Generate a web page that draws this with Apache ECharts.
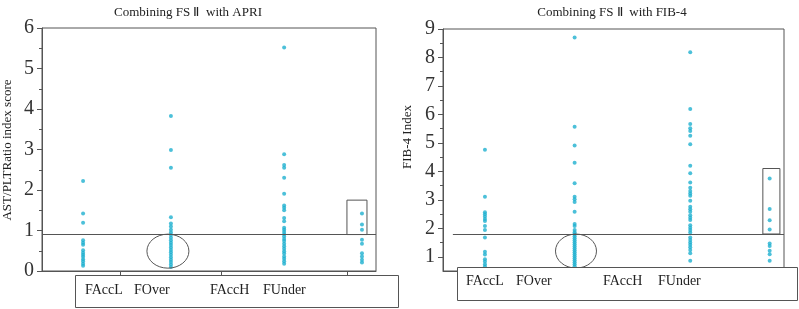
<!DOCTYPE html>
<html>
<head>
<meta charset="utf-8">
<script src="https://cdn.jsdelivr.net/npm/echarts@6/dist/echarts.min.js"></script>
<style>
  html, body { margin: 0; padding: 0; background: #fff; }
  #chart { width: 799px; height: 309px; }
</style>
</head>
<body>
<div id="chart"></div>
<script>
// legend labels (as printed in the boxes under each plot)
const legendNames = ['FAccL', 'FOver', 'FAccH', 'FUnder'];

// APRI (AST/PLT ratio index score), one column per group
const apriAccL = [2.22, 1.42, 1.19, 0.76, 0.70, 0.65, 0.51, 0.45, 0.40, 0.35, 0.29, 0.24, 0.18, 0.13];
const apriOver = [3.83, 2.99, 2.55, 1.33, 1.17, 1.10, 1.02, 0.95, 0.89, 0.82, 0.76, 0.70, 0.64, 0.58,
  0.52, 0.46, 0.40, 0.34, 0.28, 0.22, 0.16, 0.10];
const apriUnder = [5.52, 2.88, 2.62, 2.55, 2.30, 1.91, 1.62, 1.56, 1.50, 1.31, 1.23, 1.07, 1.02, 0.96,
  0.91, 0.85, 0.79, 0.74, 0.67, 0.61, 0.55, 0.49, 0.43, 0.36, 0.30, 0.24, 0.18];
const apriLast = [1.42, 1.15, 1.02, 0.77, 0.67, 0.44, 0.36, 0.28, 0.21];

// FIB-4 index
const fibAccL = [4.76, 3.11, 2.56, 2.49, 2.41, 2.33, 2.26, 2.08, 1.94, 1.68, 1.18, 1.08, 0.91, 0.83, 0.74, 0.66];
const fibOver = [8.70, 5.57, 4.91, 4.30, 3.58, 3.11, 3.02, 2.92, 2.58, 2.15, 2.08, 1.94, 1.86, 1.79,
  1.72, 1.65, 1.58, 1.51, 1.44, 1.37, 1.30, 1.23, 1.16, 1.09, 1.02, 0.95, 0.88, 0.81, 0.74, 0.67];
const fibUnder = [8.18, 6.19, 5.66, 5.51, 5.42, 5.25, 4.95, 4.20, 3.93, 3.61, 3.42, 3.31, 3.22, 3.14,
  2.97, 2.76, 2.67, 2.58, 2.46, 2.37, 2.29, 2.11, 2.02, 1.94, 1.85, 1.68, 1.59, 1.50, 1.42, 1.33,
  1.24, 1.12, 0.86];
const fibLast = [3.75, 2.68, 2.28, 1.96, 1.47, 1.38, 1.21, 1.09, 0.86];

// cut-off values and y tick labels
const apriCut = 0.9;
const fibCut = 1.8;
const apriTicks = [0, 1, 2, 3, 4, 5, 6];
const fibTicks = [1, 2, 3, 4, 5, 6, 7, 8, 9];
const fibMinorTicks = [1.5, 2.5, 3.5, 4.5, 5.5, 6.5, 7.5, 8.5];

// where the columns sit on the 0-100 horizontal scale
const columnX = [12.3, 38.6, 72.5, 95.8];
const xTicks = [23.4, 53.6, 91.3];

const DOT = '#1fb0cf';
const LINE = '#555';
const FONT = 'Liberation Serif';

function toPoints(values, x) {
  return values.map(v => [x, v]);
}

const chart = echarts.init(document.getElementById('chart'));

function dotSeries(gridIdx, values, x) {
  return {
    type: 'scatter',
    xAxisIndex: gridIdx,
    yAxisIndex: gridIdx === 0 ? 0 : 1,
    data: toPoints(values, x),
    symbolSize: 4,
    itemStyle: { color: DOT },
    silent: true,
    z: 3
  };
}

const xAxisBase = {
  type: 'value',
  min: 0,
  max: 100,
  axisLine: { lineStyle: { color: LINE } },
  axisLabel: { show: false },
  splitLine: { show: false }
};

const option = {
  animation: false,
  textStyle: { fontFamily: FONT },
  title: [
    { text: 'Combining FS Ⅱ  with APRI', left: 183, top: 1, textAlign: 'center',
      textStyle: { fontSize: 13, fontWeight: 'normal', color: '#222', fontFamily: FONT } },
    { text: 'Combining FS Ⅱ  with FIB-4', left: 607, top: 1, textAlign: 'center',
      textStyle: { fontSize: 13, fontWeight: 'normal', color: '#222', fontFamily: FONT } }
  ],
  grid: [
    { left: 42, top: 28, width: 334, height: 243, show: true, borderColor: LINE, borderWidth: 1 },
    { left: 443, top: 29, width: 341, height: 242, show: true, borderColor: LINE, borderWidth: 1 }
  ],
  xAxis: [
    Object.assign({}, xAxisBase, { gridIndex: 0,
      axisTick: { show: true, length: 5, customValues: xTicks, lineStyle: { color: LINE } } }),
    Object.assign({}, xAxisBase, { gridIndex: 1, axisTick: { show: false } })
  ],
  yAxis: [
    {
      type: 'value', gridIndex: 0, min: 0, max: 6, interval: 1,
      axisLine: { show: true, lineStyle: { color: LINE } },
      axisTick: { show: true, length: 5, lineStyle: { color: LINE } },
      minorTick: { show: true, splitNumber: 2, length: 3, lineStyle: { color: LINE } },
      axisLabel: { fontSize: 20, color: '#333', margin: 8, fontFamily: FONT, customValues: apriTicks },
      splitLine: { show: false }
    },
    {
      type: 'value', gridIndex: 1, min: 0.5, max: 9, position: 'left',
      axisLine: { show: true, lineStyle: { color: LINE } },
      axisTick: { show: true, length: 5, customValues: fibTicks, lineStyle: { color: LINE } },
      axisLabel: { fontSize: 20, color: '#333', margin: 8, fontFamily: FONT, customValues: fibTicks },
      splitLine: { show: false }
    },
    {
      // minor ticks for the FIB-4 axis
      type: 'value', gridIndex: 1, min: 0.5, max: 9, position: 'left', offset: 0,
      axisLine: { show: false },
      axisTick: { show: true, length: 3, customValues: fibMinorTicks, lineStyle: { color: LINE } },
      axisLabel: { show: false },
      splitLine: { show: false }
    }
  ],
  series: [
    dotSeries(0, apriAccL, columnX[0]),
    dotSeries(0, apriOver, columnX[1]),
    dotSeries(0, apriUnder, columnX[2]),
    dotSeries(0, apriLast, columnX[3]),
    dotSeries(1, fibAccL, columnX[0]),
    dotSeries(1, fibOver, columnX[1]),
    dotSeries(1, fibUnder, columnX[2]),
    dotSeries(1, fibLast, columnX[3]),
    {
      // cut-off line and box around the last column, APRI
      type: 'scatter', xAxisIndex: 0, yAxisIndex: 0, data: [], silent: true,
      markLine: {
        symbol: 'none', silent: true, label: { show: false },
        lineStyle: { color: LINE, width: 1, type: 'solid' },
        data: [[{ coord: [0, apriCut] }, { coord: [100, apriCut] }]]
      },
      markArea: {
        silent: true, label: { show: false },
        itemStyle: { color: 'rgba(0,0,0,0)', borderColor: LINE, borderWidth: 1 },
        data: [[{ coord: [91.3, apriCut] }, { coord: [97.3, 1.75] }]]
      }
    },
    {
      // cut-off line and box, FIB-4
      type: 'scatter', xAxisIndex: 1, yAxisIndex: 1, data: [], silent: true,
      markLine: {
        symbol: 'none', silent: true, label: { show: false },
        lineStyle: { color: LINE, width: 1, type: 'solid' },
        data: [[{ coord: [2.9, fibCut] }, { coord: [100, fibCut] }]]
      },
      markArea: {
        silent: true, label: { show: false },
        itemStyle: { color: 'rgba(0,0,0,0)', borderColor: LINE, borderWidth: 1 },
        data: [[{ coord: [93.8, fibCut] }, { coord: [98.8, 4.1] }]]
      }
    }
  ]
};

chart.setOption(option);

// ellipses around the FOver column, below the cut-off
const e1 = chart.convertToPixel({ gridIndex: 0 }, [37.7, 0.49]);
const e2 = chart.convertToPixel({ gridIndex: 1 }, [39.0, 1.2]);

function legendBox(x, y, w, h, textX, textY) {
  const items = [{
    type: 'rect', shape: { x: x, y: y, width: w, height: h },
    style: { fill: '#fff', stroke: LINE, lineWidth: 1 }, z: 10
  }];
  legendNames.forEach((name, i) => {
    items.push({
      type: 'text', x: textX[i], y: textY, z: 11,
      style: { text: name, fill: '#222', font: '14px "Liberation Serif"', verticalAlign: 'middle' }
    });
  });
  return items;
}

chart.setOption({
  graphic: [
    { type: 'ellipse', shape: { cx: e1[0], cy: e1[1], rx: 21, ry: 17 },
      style: { fill: 'none', stroke: LINE, lineWidth: 1 }, z: 5 },
    { type: 'ellipse', shape: { cx: e2[0], cy: e2[1], rx: 20.5, ry: 17 },
      style: { fill: 'none', stroke: LINE, lineWidth: 1 }, z: 5 },
    { type: 'text', x: 8, y: 150, rotation: Math.PI / 2, z: 11,
      style: { text: 'AST/PLTRatio index score', fill: '#222', font: '13px "Liberation Serif"',
        align: 'center', verticalAlign: 'middle' } },
    { type: 'text', x: 408, y: 137, rotation: Math.PI / 2, z: 11,
      style: { text: 'FIB-4 Index', fill: '#222', font: '13px "Liberation Serif"',
        align: 'center', verticalAlign: 'middle' } }
  ]
    .concat(legendBox(75.5, 275.5, 323, 32, [85, 134, 210, 263], 290))
    .concat(legendBox(457.5, 267.5, 340, 33, [466, 516, 603, 658], 281))
});

window.addEventListener('resize', () => chart.resize());
</script>
</body>
</html>
